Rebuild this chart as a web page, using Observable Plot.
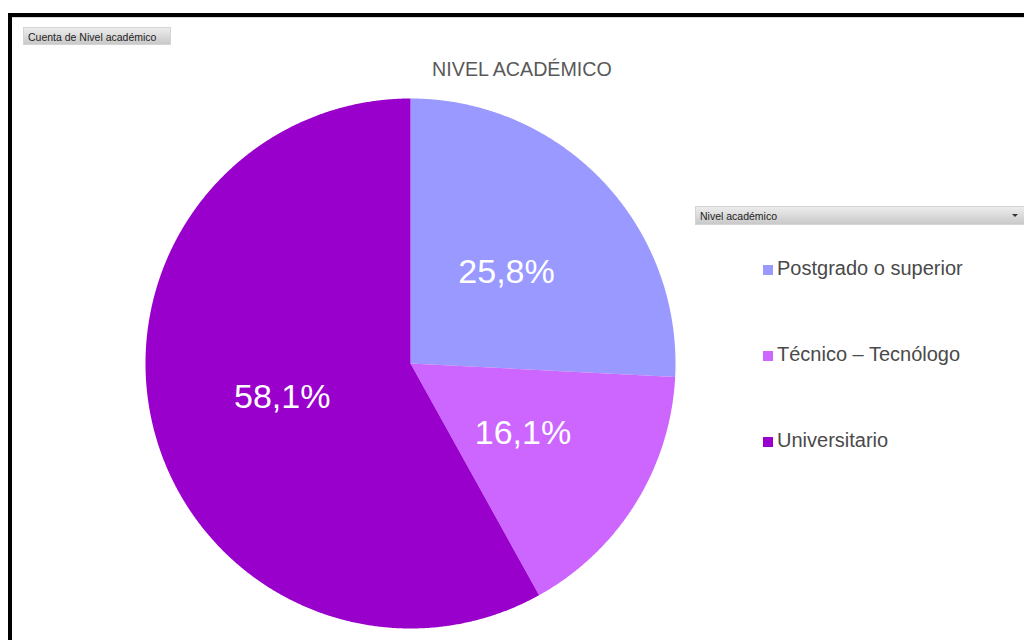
<!DOCTYPE html>
<html><head><meta charset="utf-8">
<script src="https://cdn.jsdelivr.net/npm/d3@7"></script>
<script src="https://cdn.jsdelivr.net/npm/@observablehq/plot@0.6"></script>
<style>
body{margin:0;background:#fff;}
#page{position:relative;width:1024px;height:640px;overflow:hidden;background:#fff;font-family:"Liberation Sans",Arial,sans-serif;}
#frame{position:absolute;left:8px;top:13px;width:1200px;height:800px;border-left:4px solid #000;border-top:4px solid #000;box-sizing:border-box;}
#frame:after{content:"";position:absolute;left:0;top:0;right:0;height:1px;background:#d8d8d8;}
.btn{position:absolute;background:linear-gradient(#ececec,#c9c9c9);color:#222;font-size:10.5px;line-height:18px;box-sizing:border-box;padding-left:4px;border:1px solid #d4d4d4;}
#title{position:absolute;left:322px;width:400px;top:58px;text-align:center;font-size:19.7px;color:#595959;}
#chart{position:absolute;left:145px;top:98px;}
.item{position:absolute;left:763px;font-size:20px;color:#4a4a4a;line-height:22px;white-space:nowrap;}
.sw{display:inline-block;width:10px;height:10px;margin-right:4px;vertical-align:0px;}
#arrow{position:absolute;top:7px;width:0;height:0;border-left:3px solid transparent;border-right:3px solid transparent;border-top:3px solid #333;}
</style></head><body>
<div id="page">
  <div id="frame"></div>
  <div class="btn" id="fieldBtn" style="left:23px;top:27px;width:148px;height:18px;"></div>
  <div id="title"></div>
  <div id="chart"></div>
  <div class="btn" id="legendBtn" style="left:695px;top:206px;width:334px;height:19px;"><span id="legendTitle"></span><div id="arrow" style="right:10px"></div></div>
  <div id="legend"></div>
</div>
<script>
const categories = ["Postgrado o superior", "Técnico – Tecnólogo", "Universitario"];
const counts = [8, 5, 18];
const colors = ["#9999FF", "#CC66FF", "#9900CC"];
const titleText = "NIVEL ACADÉMICO";
const fieldButtonText = "Cuenta de Nivel académico";
const legendTitleText = "Nivel académico";

document.getElementById("title").textContent = titleText;
document.getElementById("fieldBtn").textContent = fieldButtonText;
document.getElementById("legendTitle").textContent = legendTitleText;

const rows = categories.map((name, i) => ({name, count: counts[i]}));
const total = d3.sum(counts);
const arcs = d3.pie().sort(null).value(d => d.count)(rows);

const features = arcs.map(p => {
  const n = Math.max(4, Math.ceil((p.endAngle - p.startAngle) / 0.005));
  const ring = [[0, 0]];
  for (let i = 0; i <= n; i++) {
    const a = p.startAngle + (p.endAngle - p.startAngle) * i / n;
    ring.push([Math.sin(a), -Math.cos(a)]);
  }
  ring.push([0, 0]);
  return {type: "Feature", properties: {name: p.data.name}, geometry: {type: "Polygon", coordinates: [ring]}};
});

const labels = arcs.map(p => {
  const a = (p.startAngle + p.endAngle) / 2;
  return {
    x: 0.5 * Math.sin(a),
    y: -0.5 * Math.cos(a),
    label: (p.data.count / total * 100).toFixed(1).replace(".", ",") + "%"
  };
});

const square = {type: "Polygon", coordinates: [[[-1, -1], [1, -1], [1, 1], [-1, 1], [-1, -1]]]};

const chart = Plot.plot({
  width: 530,
  height: 530,
  margin: 0,
  projection: {type: "identity", domain: square},
  color: {domain: categories, range: colors},
  style: {background: "transparent", overflow: "visible"},
  marks: [
    Plot.geo(features, {fill: d => d.properties.name}),
    Plot.text(labels, {x: "x", y: "y", text: "label", fill: "white", fontSize: 34, fontFamily: "Liberation Sans, Arial, sans-serif"})
  ]
});
document.getElementById("chart").appendChild(chart);

const legend = document.getElementById("legend");
const legendTops = [257, 343, 429];
categories.forEach((c, i) => {
  const d = document.createElement("div");
  d.className = "item";
  d.style.top = legendTops[i] + "px";
  const sw = document.createElement("span");
  sw.className = "sw";
  sw.style.background = colors[i];
  d.appendChild(sw);
  d.appendChild(document.createTextNode(c));
  legend.appendChild(d);
});
</script>
</body></html>
